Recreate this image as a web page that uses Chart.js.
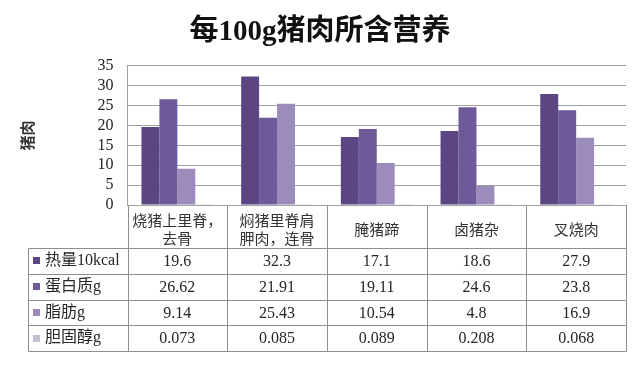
<!DOCTYPE html>
<html><head><meta charset="utf-8">
<script src="https://cdn.jsdelivr.net/npm/chart.js@4/dist/chart.umd.min.js"></script>
<style>html,body{margin:0;padding:0;background:#fff;} #wrap{width:640px;height:373px;position:relative;}</style>
</head><body><div id="wrap"><canvas id="c" width="640" height="373"></canvas></div>
<script>
const titleText = '每100g猪肉所含营养';
const yAxisTitle = '猪肉';
const categories = [['烧猪上里脊，', '去骨'], ['焖猪里脊肩', '胛肉，连骨'], '腌猪蹄', '卤猪杂', '叉烧肉'];
const seriesNames = ['热量10kcal', '蛋白质g', '脂肪g', '胆固醇g'];
const calories = [19.6, 32.3, 17.1, 18.6, 27.9];
const protein = [26.62, 21.91, 19.11, 24.6, 23.8];
const fat = [9.14, 25.43, 10.54, 4.8, 16.9];
const cholesterol = [0.073, 0.085, 0.089, 0.208, 0.068];
const yTicks = [0, 5, 10, 15, 20, 25, 30, 35];
const seriesColors = ['#5b4683', '#6e5999', '#9c8cbc', '#c5bfd3'];
const seriesValues = [calories, protein, fat, cholesterol];

const SERIF_CJK = "'Liberation Serif', 'Noto Sans CJK SC', serif";
const CJK = "'Noto Sans CJK SC', sans-serif";

const tablePlugin = {
  id: 'dataTable',
  afterDraw(chart) {
    const ctx = chart.ctx, xs = chart.scales.x, ca = chart.chartArea;
    const n = chart.data.labels.length;
    const colW = (ca.right - ca.left) / n;
    const top = xs.bottom;
    const rowH = 25.75;
    const legendLeft = 28.5;
    const rows = chart.data.datasets.length;
    const bottom = top + rows * rowH;
    ctx.save();
    ctx.strokeStyle = '#8f8f8f';
    ctx.lineWidth = 1;
    ctx.beginPath();
    for (let i = 0; i <= n; i++) {
      const xx = Math.round(ca.left + i * colW) + 0.5;
      ctx.moveTo(xx, ca.bottom);
      ctx.lineTo(xx, Math.round(bottom) + 0.5);
    }
    ctx.moveTo(legendLeft, Math.round(top) + 0.5);
    ctx.lineTo(legendLeft, Math.round(bottom) + 0.5);
    for (let r = 0; r <= rows; r++) {
      const yy = Math.round(top + r * rowH) + 0.5;
      ctx.moveTo(legendLeft, yy);
      ctx.lineTo(Math.round(ca.right) + 0.5, yy);
    }
    ctx.stroke();
    ctx.textBaseline = 'middle';
    chart.data.datasets.forEach((ds, r) => {
      const yc = top + (r + 0.5) * rowH;
      ctx.fillStyle = ds.backgroundColor;
      ctx.fillRect(33, Math.round(yc - 3.5), 7, 7);
      ctx.fillStyle = '#262626';
      ctx.font = '16px ' + SERIF_CJK;
      ctx.textAlign = 'left';
      ctx.fillText(ds.label, 45, yc);
      ctx.textAlign = 'center';
      ds.data.forEach((v, i) => {
        ctx.fillText(String(v), xs.getPixelForValue(i), yc + 1);
      });
    });
    ctx.restore();
  }
};

new Chart(document.getElementById('c'), {
  type: 'bar',
  data: {
    labels: categories,
    datasets: seriesNames.map((name, i) => ({
      label: name,
      data: seriesValues[i],
      backgroundColor: seriesColors[i],
      borderWidth: 0,
      categoryPercentage: 0.72,
      barPercentage: 1.0
    }))
  },
  options: {
    responsive: false,
    animation: false,
    layout: { padding: { left: 14, right: 14, top: 0, bottom: 125 } },
    plugins: {
      legend: { display: false },
      tooltip: { enabled: false },
      title: {
        display: true,
        text: titleText,
        color: '#111',
        font: { size: 29, weight: 'bold', family: SERIF_CJK },
        padding: { top: 15, bottom: 16 }
      }
    },
    scales: {
      x: {
        grid: { display: false, drawTicks: false },
        border: { display: true, color: '#a0a0a0' },
        ticks: {
          font: { size: 15, family: CJK, lineHeight: 1.17 },
          color: '#333',
          padding: 15.7,
          crossAlign: 'center',
          maxRotation: 0,
          autoSkip: false
        },
        afterFit(s) { s.height = 43; }
      },
      y: {
        min: 0,
        max: 35,
        afterBuildTicks(s) { s.ticks = yTicks.map(v => ({ value: v })); },
        grid: { color: '#a0a0a0', drawTicks: false },
        border: { display: true, color: '#a0a0a0' },
        ticks: {
          font: { size: 16, family: SERIF_CJK },
          color: '#222',
          padding: 14,
          autoSkip: false,
          stepSize: 5
        },
        title: {
          display: true,
          text: yAxisTitle,
          color: '#333',
          font: { size: 15, weight: 'bold', family: CJK },
          padding: { top: 4.5, bottom: 0 }
        },
        afterFit(s) { s.width = 113.5; }
      }
    }
  },
  plugins: [tablePlugin]
});
</script>
</body></html>
